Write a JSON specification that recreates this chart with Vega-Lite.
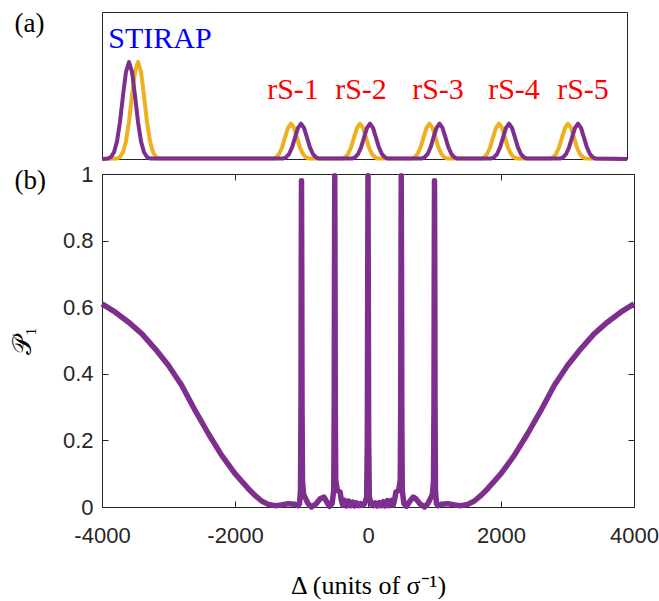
{
  "$schema": "https://vega.github.io/schema/vega-lite/v6.json",
  "padding": {"left": 8, "top": 8, "right": 5, "bottom": 5},
  "background": "white",
  "spacing": 0,
  "config": {
    "view": {"stroke": "#262626", "strokeWidth": 1},
    "axis": {"grid": false, "labelFont": "Liberation Sans", "labelFontSize": 22, "labelColor": "#262626", "tickColor": "#262626", "domainColor": "#262626", "titleFont": "Liberation Serif", "titleFontWeight": "normal", "titleColor": "#000000", "labelFlush": false}
  },
  "datasets": {
    "pulses": [
      {"s": "P", "t": 0, "a": 0},
      {"s": "P", "t": 6, "a": 0.0036}, {"s": "P", "t": 9, "a": 0.0143}, {"s": "P", "t": 12, "a": 0.046}, {"s": "P", "t": 15, "a": 0.12}, {"s": "P", "t": 18, "a": 0.253}, {"s": "P", "t": 21, "a": 0.431}, {"s": "P", "t": 24, "a": 0.593}, {"s": "P", "t": 27, "a": 0.66}, {"s": "P", "t": 30, "a": 0.593}, {"s": "P", "t": 33, "a": 0.431}, {"s": "P", "t": 36, "a": 0.253}, {"s": "P", "t": 39, "a": 0.12}, {"s": "P", "t": 42, "a": 0.046}, {"s": "P", "t": 45, "a": 0.0143}, {"s": "P", "t": 48, "a": 0.0036},
      {"s": "P", "t": 181, "a": 0.0027}, {"s": "P", "t": 184, "a": 0.0105}, {"s": "P", "t": 187, "a": 0.0325}, {"s": "P", "t": 190, "a": 0.0779}, {"s": "P", "t": 193, "a": 0.1456}, {"s": "P", "t": 196, "a": 0.2118}, {"s": "P", "t": 199, "a": 0.24}, {"s": "P", "t": 202, "a": 0.2118}, {"s": "P", "t": 205, "a": 0.1456}, {"s": "P", "t": 208, "a": 0.0779}, {"s": "P", "t": 211, "a": 0.0325}, {"s": "P", "t": 214, "a": 0.0105}, {"s": "P", "t": 217, "a": 0.0027},
      {"s": "P", "t": 250, "a": 0.0027}, {"s": "P", "t": 253, "a": 0.0105}, {"s": "P", "t": 256, "a": 0.0325}, {"s": "P", "t": 259, "a": 0.0779}, {"s": "P", "t": 262, "a": 0.1456}, {"s": "P", "t": 265, "a": 0.2118}, {"s": "P", "t": 268, "a": 0.24}, {"s": "P", "t": 271, "a": 0.2118}, {"s": "P", "t": 274, "a": 0.1456}, {"s": "P", "t": 277, "a": 0.0779}, {"s": "P", "t": 280, "a": 0.0325}, {"s": "P", "t": 283, "a": 0.0105}, {"s": "P", "t": 286, "a": 0.0027},
      {"s": "P", "t": 319.5, "a": 0.0027}, {"s": "P", "t": 322.5, "a": 0.0105}, {"s": "P", "t": 325.5, "a": 0.0325}, {"s": "P", "t": 328.5, "a": 0.0779}, {"s": "P", "t": 331.5, "a": 0.1456}, {"s": "P", "t": 334.5, "a": 0.2118}, {"s": "P", "t": 337.5, "a": 0.24}, {"s": "P", "t": 340.5, "a": 0.2118}, {"s": "P", "t": 343.5, "a": 0.1456}, {"s": "P", "t": 346.5, "a": 0.0779}, {"s": "P", "t": 349.5, "a": 0.0325}, {"s": "P", "t": 352.5, "a": 0.0105}, {"s": "P", "t": 355.5, "a": 0.0027},
      {"s": "P", "t": 389, "a": 0.0027}, {"s": "P", "t": 392, "a": 0.0105}, {"s": "P", "t": 395, "a": 0.0325}, {"s": "P", "t": 398, "a": 0.0779}, {"s": "P", "t": 401, "a": 0.1456}, {"s": "P", "t": 404, "a": 0.2118}, {"s": "P", "t": 407, "a": 0.24}, {"s": "P", "t": 410, "a": 0.2118}, {"s": "P", "t": 413, "a": 0.1456}, {"s": "P", "t": 416, "a": 0.0779}, {"s": "P", "t": 419, "a": 0.0325}, {"s": "P", "t": 422, "a": 0.0105}, {"s": "P", "t": 425, "a": 0.0027},
      {"s": "P", "t": 458, "a": 0.0027}, {"s": "P", "t": 461, "a": 0.0105}, {"s": "P", "t": 464, "a": 0.0325}, {"s": "P", "t": 467, "a": 0.0779}, {"s": "P", "t": 470, "a": 0.1456}, {"s": "P", "t": 473, "a": 0.2118}, {"s": "P", "t": 476, "a": 0.24}, {"s": "P", "t": 479, "a": 0.2118}, {"s": "P", "t": 482, "a": 0.1456}, {"s": "P", "t": 485, "a": 0.0779}, {"s": "P", "t": 488, "a": 0.0325}, {"s": "P", "t": 491, "a": 0.0105}, {"s": "P", "t": 494, "a": 0.0027},
      {"s": "P", "t": 525, "a": 0},
      {"s": "Y", "t": 0, "a": 0},
      {"s": "Y", "t": 15, "a": 0.0036}, {"s": "Y", "t": 18, "a": 0.0143}, {"s": "Y", "t": 21, "a": 0.046}, {"s": "Y", "t": 24, "a": 0.12}, {"s": "Y", "t": 27, "a": 0.253}, {"s": "Y", "t": 30, "a": 0.431}, {"s": "Y", "t": 33, "a": 0.593}, {"s": "Y", "t": 36, "a": 0.66}, {"s": "Y", "t": 39, "a": 0.593}, {"s": "Y", "t": 42, "a": 0.431}, {"s": "Y", "t": 45, "a": 0.253}, {"s": "Y", "t": 48, "a": 0.12}, {"s": "Y", "t": 51, "a": 0.046}, {"s": "Y", "t": 54, "a": 0.0143}, {"s": "Y", "t": 57, "a": 0.0036},
      {"s": "Y", "t": 171, "a": 0.0027}, {"s": "Y", "t": 174, "a": 0.0105}, {"s": "Y", "t": 177, "a": 0.0325}, {"s": "Y", "t": 180, "a": 0.0779}, {"s": "Y", "t": 183, "a": 0.1456}, {"s": "Y", "t": 186, "a": 0.2118}, {"s": "Y", "t": 189, "a": 0.24}, {"s": "Y", "t": 192, "a": 0.2118}, {"s": "Y", "t": 195, "a": 0.1456}, {"s": "Y", "t": 198, "a": 0.0779}, {"s": "Y", "t": 201, "a": 0.0325}, {"s": "Y", "t": 204, "a": 0.0105}, {"s": "Y", "t": 207, "a": 0.0027},
      {"s": "Y", "t": 240, "a": 0.0027}, {"s": "Y", "t": 243, "a": 0.0105}, {"s": "Y", "t": 246, "a": 0.0325}, {"s": "Y", "t": 249, "a": 0.0779}, {"s": "Y", "t": 252, "a": 0.1456}, {"s": "Y", "t": 255, "a": 0.2118}, {"s": "Y", "t": 258, "a": 0.24}, {"s": "Y", "t": 261, "a": 0.2118}, {"s": "Y", "t": 264, "a": 0.1456}, {"s": "Y", "t": 267, "a": 0.0779}, {"s": "Y", "t": 270, "a": 0.0325}, {"s": "Y", "t": 273, "a": 0.0105}, {"s": "Y", "t": 276, "a": 0.0027},
      {"s": "Y", "t": 309.5, "a": 0.0027}, {"s": "Y", "t": 312.5, "a": 0.0105}, {"s": "Y", "t": 315.5, "a": 0.0325}, {"s": "Y", "t": 318.5, "a": 0.0779}, {"s": "Y", "t": 321.5, "a": 0.1456}, {"s": "Y", "t": 324.5, "a": 0.2118}, {"s": "Y", "t": 327.5, "a": 0.24}, {"s": "Y", "t": 330.5, "a": 0.2118}, {"s": "Y", "t": 333.5, "a": 0.1456}, {"s": "Y", "t": 336.5, "a": 0.0779}, {"s": "Y", "t": 339.5, "a": 0.0325}, {"s": "Y", "t": 342.5, "a": 0.0105}, {"s": "Y", "t": 345.5, "a": 0.0027},
      {"s": "Y", "t": 379, "a": 0.0027}, {"s": "Y", "t": 382, "a": 0.0105}, {"s": "Y", "t": 385, "a": 0.0325}, {"s": "Y", "t": 388, "a": 0.0779}, {"s": "Y", "t": 391, "a": 0.1456}, {"s": "Y", "t": 394, "a": 0.2118}, {"s": "Y", "t": 397, "a": 0.24}, {"s": "Y", "t": 400, "a": 0.2118}, {"s": "Y", "t": 403, "a": 0.1456}, {"s": "Y", "t": 406, "a": 0.0779}, {"s": "Y", "t": 409, "a": 0.0325}, {"s": "Y", "t": 412, "a": 0.0105}, {"s": "Y", "t": 415, "a": 0.0027},
      {"s": "Y", "t": 448, "a": 0.0027}, {"s": "Y", "t": 451, "a": 0.0105}, {"s": "Y", "t": 454, "a": 0.0325}, {"s": "Y", "t": 457, "a": 0.0779}, {"s": "Y", "t": 460, "a": 0.1456}, {"s": "Y", "t": 463, "a": 0.2118}, {"s": "Y", "t": 466, "a": 0.24}, {"s": "Y", "t": 469, "a": 0.2118}, {"s": "Y", "t": 472, "a": 0.1456}, {"s": "Y", "t": 475, "a": 0.0779}, {"s": "Y", "t": 478, "a": 0.0325}, {"s": "Y", "t": 481, "a": 0.0105}, {"s": "Y", "t": 484, "a": 0.0027},
      {"s": "Y", "t": 525, "a": 0}
    ],
    "labels": [
      {"t": 58, "a": 0.755, "label": "STIRAP", "kind": "STIRAP"},
      {"t": 191, "a": 0.405, "label": "rS-1", "kind": "rS"},
      {"t": 259, "a": 0.405, "label": "rS-2", "kind": "rS"},
      {"t": 336, "a": 0.405, "label": "rS-3", "kind": "rS"},
      {"t": 412, "a": 0.405, "label": "rS-4", "kind": "rS"},
      {"t": 481, "a": 0.405, "label": "rS-5", "kind": "rS"}
    ],
    "prob": [
      {"d": -4000, "p": 0.61}, {"d": -3800, "p": 0.585}, {"d": -3600, "p": 0.555}, {"d": -3400, "p": 0.52}, {"d": -3200, "p": 0.475}, {"d": -3000, "p": 0.425}, {"d": -2800, "p": 0.365}, {"d": -2600, "p": 0.29}, {"d": -2400, "p": 0.22}, {"d": -2200, "p": 0.155}, {"d": -2000, "p": 0.1}, {"d": -1800, "p": 0.055}, {"d": -1700, "p": 0.035}, {"d": -1600, "p": 0.018}, {"d": -1500, "p": 0.008}, {"d": -1400, "p": 0.004}, {"d": -1300, "p": 0.006}, {"d": -1200, "p": 0.01}, {"d": -1100, "p": 0.008}, {"d": -1050, "p": 0.004},
      {"d": -1030, "p": 0.01}, {"d": -1015, "p": 0.05}, {"d": -1008, "p": 0.3}, {"d": -1004, "p": 0.7}, {"d": -1000, "p": 0.98}, {"d": -996, "p": 0.7}, {"d": -992, "p": 0.3}, {"d": -985, "p": 0.08}, {"d": -970, "p": 0.04}, {"d": -950, "p": 0.03}, {"d": -900, "p": 0.01}, {"d": -850, "p": 0.0}, {"d": -780, "p": 0.01}, {"d": -720, "p": 0.025}, {"d": -660, "p": 0.03}, {"d": -620, "p": 0.015}, {"d": -580, "p": 0.002}, {"d": -540, "p": 0.01},
      {"d": -515, "p": 0.05}, {"d": -508, "p": 0.3}, {"d": -504, "p": 0.7}, {"d": -500, "p": 0.995}, {"d": -496, "p": 0.7}, {"d": -492, "p": 0.3}, {"d": -485, "p": 0.08}, {"d": -460, "p": 0.05}, {"d": -420, "p": 0.045}, {"d": -400, "p": 0.02}, {"d": -380, "p": 0.005}, {"d": -350, "p": 0.02}, {"d": -320, "p": 0.003}, {"d": -290, "p": 0.018}, {"d": -260, "p": 0.004}, {"d": -230, "p": 0.015}, {"d": -200, "p": 0.003}, {"d": -170, "p": 0.012}, {"d": -140, "p": 0.004}, {"d": -110, "p": 0.01}, {"d": -80, "p": 0.005}, {"d": -50, "p": 0.01},
      {"d": -20, "p": 0.03}, {"d": -10, "p": 0.2}, {"d": -4, "p": 0.7}, {"d": 0, "p": 0.995}, {"d": 4, "p": 0.7}, {"d": 10, "p": 0.2}, {"d": 20, "p": 0.03},
      {"d": 50, "p": 0.008}, {"d": 80, "p": 0.004}, {"d": 110, "p": 0.012}, {"d": 140, "p": 0.003}, {"d": 170, "p": 0.013}, {"d": 200, "p": 0.004}, {"d": 230, "p": 0.016}, {"d": 260, "p": 0.003}, {"d": 290, "p": 0.019}, {"d": 320, "p": 0.004}, {"d": 350, "p": 0.02}, {"d": 380, "p": 0.006}, {"d": 400, "p": 0.022}, {"d": 420, "p": 0.045}, {"d": 460, "p": 0.05}, {"d": 485, "p": 0.08},
      {"d": 492, "p": 0.3}, {"d": 496, "p": 0.7}, {"d": 500, "p": 0.995}, {"d": 504, "p": 0.7}, {"d": 508, "p": 0.3}, {"d": 515, "p": 0.05}, {"d": 540, "p": 0.01}, {"d": 580, "p": 0.002}, {"d": 620, "p": 0.015}, {"d": 680, "p": 0.03}, {"d": 720, "p": 0.025}, {"d": 780, "p": 0.01}, {"d": 850, "p": 0.0}, {"d": 900, "p": 0.01}, {"d": 950, "p": 0.03}, {"d": 970, "p": 0.04}, {"d": 985, "p": 0.08},
      {"d": 992, "p": 0.3}, {"d": 996, "p": 0.7}, {"d": 1000, "p": 0.98}, {"d": 1004, "p": 0.7}, {"d": 1008, "p": 0.3}, {"d": 1015, "p": 0.05}, {"d": 1030, "p": 0.01}, {"d": 1050, "p": 0.004}, {"d": 1100, "p": 0.008}, {"d": 1200, "p": 0.01}, {"d": 1300, "p": 0.006}, {"d": 1400, "p": 0.004}, {"d": 1500, "p": 0.008}, {"d": 1600, "p": 0.018}, {"d": 1700, "p": 0.035}, {"d": 1800, "p": 0.055}, {"d": 2000, "p": 0.1}, {"d": 2200, "p": 0.155}, {"d": 2400, "p": 0.22}, {"d": 2600, "p": 0.29}, {"d": 2800, "p": 0.365}, {"d": 3000, "p": 0.425}, {"d": 3200, "p": 0.475}, {"d": 3400, "p": 0.52}, {"d": 3600, "p": 0.555}, {"d": 3800, "p": 0.585}, {"d": 4000, "p": 0.61}
    ]
  },
  "vconcat": [
    {
      "width": 525,
      "height": 147,
      "layer": [
        {
          "data": {"name": "pulses"},
          "transform": [{"filter": "datum.s === 'Y'"}],
          "mark": {"type": "line", "color": "#EDB120", "strokeWidth": 4, "strokeJoin": "round"},
          "encoding": {
            "x": {"field": "t", "type": "quantitative", "scale": {"domain": [0, 525], "nice": false}, "axis": null},
            "y": {"field": "a", "type": "quantitative", "scale": {"domain": [0, 1], "nice": false},
              "axis": {"domain": false, "ticks": false, "labels": false, "title": "(a)", "titleAngle": 0, "titleX": -88, "titleY": -2, "titleAlign": "left", "titleBaseline": "top", "titleFontSize": 27}}
          }
        },
        {
          "data": {"name": "pulses"},
          "transform": [{"filter": "datum.s === 'P'"}],
          "mark": {"type": "line", "color": "#7E2F8E", "strokeWidth": 4, "strokeJoin": "round"},
          "encoding": {
            "x": {"field": "t", "type": "quantitative", "scale": {"domain": [0, 525], "nice": false}, "axis": null},
            "y": {"field": "a", "type": "quantitative", "scale": {"domain": [0, 1], "nice": false},
              "axis": {"domain": false, "ticks": false, "labels": false, "title": "(a)", "titleAngle": 0, "titleX": -88, "titleY": -2, "titleAlign": "left", "titleBaseline": "top", "titleFontSize": 27}}
          }
        },
        {
          "data": {"name": "labels"},
          "mark": {"type": "text", "font": "Liberation Serif", "fontSize": 30, "baseline": "alphabetic", "align": "center"},
          "encoding": {
            "x": {"field": "t", "type": "quantitative", "scale": {"domain": [0, 525], "nice": false}, "axis": null},
            "y": {"field": "a", "type": "quantitative", "scale": {"domain": [0, 1], "nice": false},
              "axis": {"domain": false, "ticks": false, "labels": false, "title": "(a)", "titleAngle": 0, "titleX": -88, "titleY": -2, "titleAlign": "left", "titleBaseline": "top", "titleFontSize": 27}},
            "text": {"field": "label"},
            "color": {"field": "kind", "type": "nominal", "scale": {"domain": ["STIRAP", "rS"], "range": ["#0000FF", "#FF0000"]}, "legend": null}
          }
        }
      ]
    },
    {
      "width": 532,
      "height": 333,
      "data": {"name": "prob"},
      "layer": [
        {
          "mark": {"type": "line", "color": "#7E2F8E", "strokeWidth": 5.5, "strokeJoin": "round"},
          "encoding": {
            "x": {"field": "d", "type": "quantitative", "scale": {"domain": [-4000, 4000], "nice": false},
              "axis": {"orient": "bottom", "values": [-4000, -2000, 0, 2000, 4000], "labelExpr": "'' + datum.value", "tickSize": -6, "labelPadding": 24, "domain": false,
                "title": "Δ (units of σ⁻¹)", "titleFontSize": 26, "titleY": 78, "titleBaseline": "middle"}},
            "y": {"field": "p", "type": "quantitative", "scale": {"domain": [0, 1], "nice": false},
              "axis": {"orient": "left", "values": [0, 0.2, 0.4, 0.6, 0.8, 1], "format": "~g", "tickSize": -6, "labelPadding": 15, "domain": false,
                "title": "𝒫₁", "titleFontSize": 26, "titleX": -80, "titleY": 166.5, "titleAlign": "center", "titleBaseline": "middle"}}
          }
        },
        {
          "mark": {"type": "line", "opacity": 0},
          "encoding": {
            "x": {"field": "d", "type": "quantitative", "scale": {"domain": [-4000, 4000], "nice": false},
              "axis": {"orient": "top", "values": [-4000, -2000, 0, 2000, 4000], "labels": false, "tickSize": -6, "domain": false,
                "title": "(b)", "titleAngle": 0, "titleX": -88, "titleY": -7, "titleAlign": "left", "titleBaseline": "top", "titleFontSize": 27}},
            "y": {"field": "p", "type": "quantitative", "scale": {"domain": [0, 1], "nice": false},
              "axis": {"orient": "right", "values": [0, 0.2, 0.4, 0.6, 0.8, 1], "labels": false, "tickSize": -6, "domain": false, "title": null}}
          }
        }
      ],
      "resolve": {"axis": {"x": "independent", "y": "independent"}}
    }
  ]
}
